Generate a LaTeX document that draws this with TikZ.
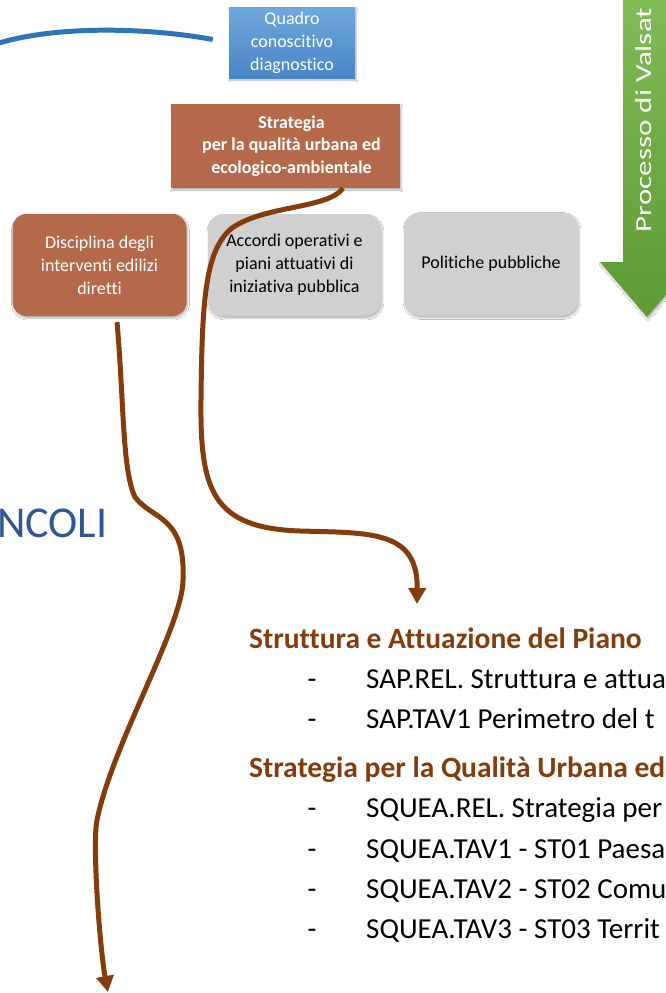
\documentclass[tikz,border=0pt]{standalone}
\usepackage{graphicx}
\usepackage{fontspec}
\setmainfont{Carlito}[Ligatures=NoCommon]
\usetikzlibrary{arrows.meta,shadows.blur}

\definecolor{boxbrown}{HTML}{B3694A}
\definecolor{linebrown}{HTML}{843C0C}
\definecolor{boxgrey}{HTML}{D0D0D0}
\definecolor{quadroTop}{HTML}{6FA8DC}
\definecolor{quadroBot}{HTML}{4A85C6}
\definecolor{curveblue}{HTML}{2E75B6}
\definecolor{vincoliblue}{HTML}{2F5597}
\definecolor{valsatTop}{HTML}{82BB55}
\definecolor{valsatBot}{HTML}{5C9B35}

\tikzset{
  softshadow/.style={blur shadow={shadow blur steps=6,shadow xshift=1pt,shadow yshift=-2pt,shadow opacity=30}},
  boxtext/.style={align=center,inner sep=2pt,font=\fontsize{18}{23}\selectfont},
  bluebox/.style={boxtext,top color=quadroTop,bottom color=quadroBot,text=white,softshadow},
  strategybox/.style={boxtext,fill=boxbrown,text=white,font=\bfseries\fontsize{18}{22.5}\selectfont,softshadow},
  brownbox/.style={boxtext,fill=boxbrown,text=white,rounded corners=14pt,softshadow},
  greybox/.style={boxtext,fill=boxgrey,text=black,rounded corners=16pt,softshadow},
  flow/.style={draw=linebrown,line width=5pt,-{Triangle[width=17pt,length=16pt]}},
  heading/.style={anchor=base west,inner sep=0pt,text=linebrown,font=\bfseries\fontsize{29.5}{35}\selectfont},
  itemdash/.style={anchor=base,inner sep=0pt,font=\fontsize{29}{35}\selectfont},
  itemtext/.style={anchor=base west,inner sep=0pt,font=\fontsize{29}{35}\selectfont}
}

\begin{document}
\begin{tikzpicture}[x=1pt,y=-1pt]
\useasboundingbox[fill=white] (0,0) rectangle (666,993);

%Shape: Valsat arrow
\path[top color=valsatTop,bottom color=valsatBot,softshadow] (623,-3) -- (623,262) -- (600,262) -- (647,317) -- (694,262) -- (671,262) -- (671,-3) -- cycle;
% Text Node
\node[anchor=base,rotate=90,inner sep=0pt,text=white,font=\fontsize{31}{38}\selectfont] (valsat) at (651,120) {\scalebox{1}[0.74]{Processo di Valsat}};

% Boxes
\node[bluebox,minimum width=126pt,minimum height=71pt] (quadro) at (292,42.5) {Quadro\\conoscitivo\\diagnostico};
\node[strategybox,minimum width=229pt,minimum height=84pt] (strategia) at (285.5,146) {\hspace*{12pt}Strategia\\\hspace*{12pt}per la qualità urbana ed\\\hspace*{12pt}ecologico-ambientale};
\node[brownbox,minimum width=174pt,minimum height=102pt] (disciplina) at (99.5,265) {Disciplina degli\\interventi edilizi\\diretti};
\node[greybox,minimum width=173pt,minimum height=102pt] (accordi) at (294.5,265) {Accordi operativi e\\piani attuativi di\\iniziativa pubblica};
\node[greybox,minimum width=174pt,minimum height=103pt] (politiche) at (491,264) {Politiche pubbliche};

% Text Node
\node[anchor=base west,inner sep=0pt,text=vincoliblue,font=\fontsize{44}{50}\selectfont] (vincoli) at (-3,537) {NCOLI};

\coordinate (blueEnd) at (-1,43);
\coordinate (sapArrow) at (417,604);
\coordinate (vincoliArrow) at (108,992);

%Curve Lines
\draw[curveblue,line width=5pt] ([xshift=-16pt,yshift=3pt]quadro.west) .. controls (150,28) and (60,25) .. (blueEnd);
%Curve Lines
\draw[flow] ([xshift=57.5pt]strategia.south) .. controls (328,209) and (265,205) .. (232,228) .. controls (205,250) and (202,300) .. (201,400) .. controls (200,490) and (212,528) .. (300,531) .. controls (370,533) and (418,530) .. (sapArrow);
%Curve Lines
\draw[flow] ([xshift=17.5pt,yshift=-6pt]disciplina.south) .. controls (124,400) and (122,470) .. (135,497) .. controls (152,520) and (186,515) .. (183,580) .. controls (183,625) and (112,745) .. (97,820) .. controls (92,845) and (100,950) .. (vincoliArrow);

% Text Node
\node[heading] (sapHead) at (249,648) {Struttura e Attuazione del Piano};
\node[itemdash] (dashA) at (312,688) {-};
\node[itemtext] (sapRel) at (366,688) {SAP.REL. Struttura e attua};
\node[itemdash] (dashB) at (312,728) {-};
\node[itemtext] (sapTav) at (366,728) {SAP.TAV1 Perimetro del t};

% Text Node
\node[heading] (squeaHead) at (249,777) {Strategia per la Qualità Urbana ed};
\node[itemdash] (dashC) at (312,817) {-};
\node[itemtext] (squeaRel) at (366,817) {SQUEA.REL. Strategia per};
\node[itemdash] (dashD) at (312,858) {-};
\node[itemtext] (squeaTavA) at (366,858) {SQUEA.TAV1 - ST01 Paesa};
\node[itemdash] (dashE) at (312,898) {-};
\node[itemtext] (squeaTavB) at (366,898) {SQUEA.TAV2 - ST02 Comu};
\node[itemdash] (dashF) at (312,938) {-};
\node[itemtext] (squeaTavC) at (366,938) {SQUEA.TAV3 - ST03 Territ};

\end{tikzpicture}
\end{document}
